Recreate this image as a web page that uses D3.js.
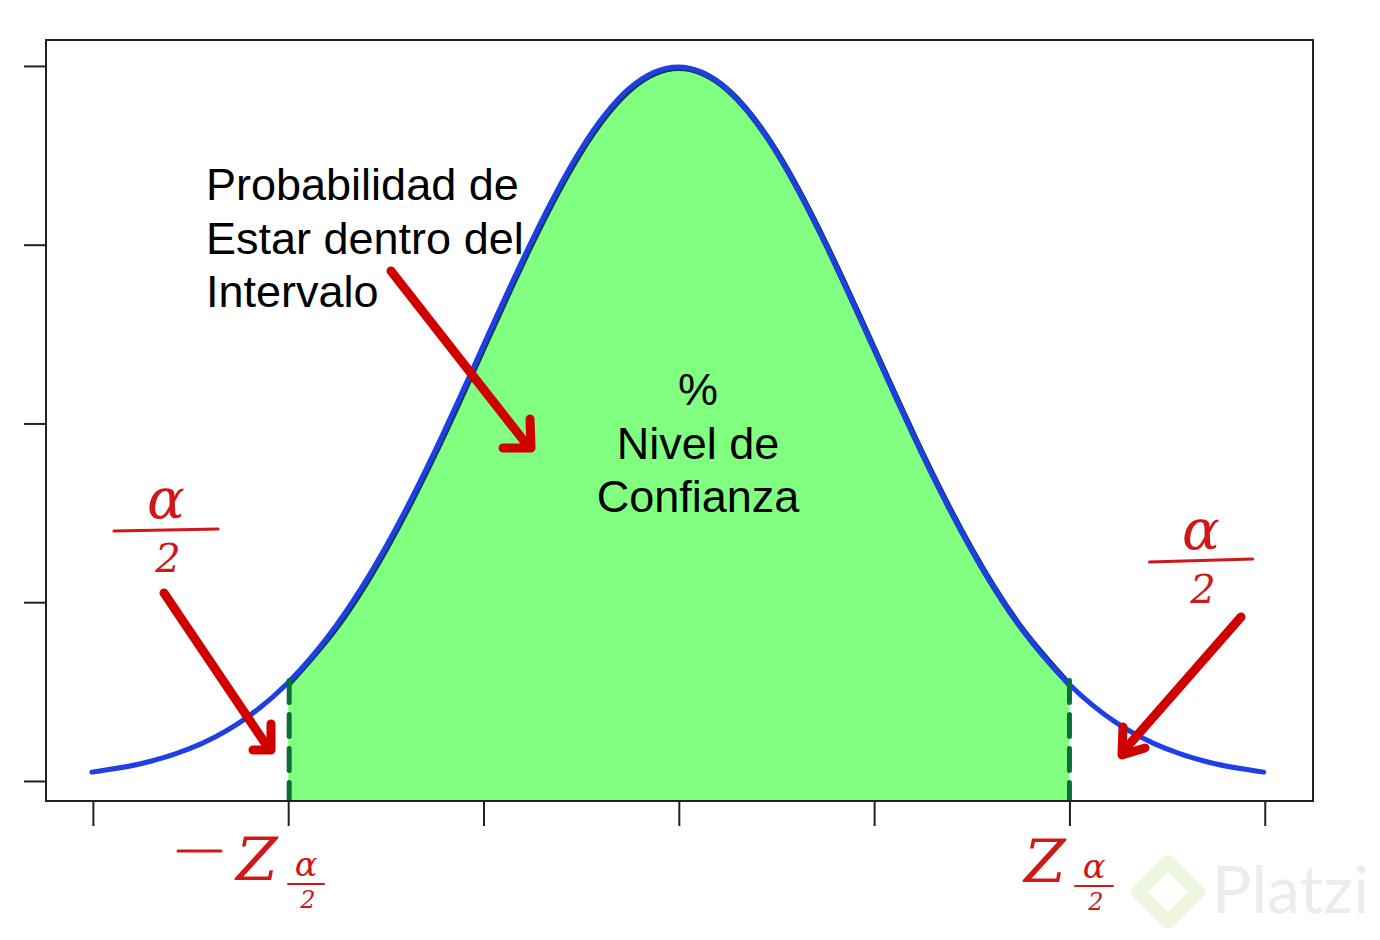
<!DOCTYPE html>
<html><head><meta charset="utf-8">
<script src="https://cdn.jsdelivr.net/npm/d3@7"></script>
<style>body{margin:0;background:#fff}svg{display:block}</style>
</head><body>
<svg id="chart" width="1380" height="940"></svg>
<script>
// Data (standard normal density)
const zValues = [-3,-2.75,-2.5,-2.25,-2,-1.75,-1.5,-1.25,-1,-0.75,-0.5,-0.25,0,0.25,0.5,0.75,1,1.25,1.5,1.75,2,2.25,2.5,2.75,3];
const density = [0.0044,0.0091,0.0175,0.0317,0.0540,0.0863,0.1295,0.1826,0.2420,0.3011,0.3521,0.3867,0.3989,0.3867,0.3521,0.3011,0.2420,0.1826,0.1295,0.0863,0.0540,0.0317,0.0175,0.0091,0.0044];
const xTicks = [-3,-2,-1,0,1,2,3];
const yTicks = [0,0.1,0.2,0.3,0.4];
const intervalBounds = [-2, 2];
const titleLines = ["Probabilidad de","Estar dentro del","Intervalo"];
const centerLines = ["%","Nivel de","Confianza"];

const svg = d3.select("#chart");
const L=46,R=1313,T=40,B=801;
const x = d3.scaleLinear().domain([-3.24,3.247]).range([L,R]);
const y = d3.scaleLinear().domain([-0.0112,0.4145]).range([B,T]);
const pts = zValues.map((z,i)=>({z, d:density[i]}));
const curve = d3.curveNatural;

// Shaded area
const inside = pts.filter(p=>p.z>=intervalBounds[0]&&p.z<=intervalBounds[1]);
svg.append("path").datum(inside)
  .attr("d", d3.area().x(p=>x(p.z)).y0(B).y1(p=>y(p.d)).curve(curve))
  .attr("fill","#80ff80").attr("stroke","none");
svg.append("path").datum(inside)
  .attr("d", d3.line().x(p=>x(p.z)).y(p=>y(p.d)).curve(curve))
  .attr("fill","none").attr("stroke","#0b3d52").attr("stroke-width",6);

// Curve
svg.append("path").datum(pts)
  .attr("d", d3.line().x(p=>x(p.z)).y(p=>y(p.d)).curve(curve))
  .attr("fill","none").attr("stroke","#1f3fe6").attr("stroke-width",5).attr("stroke-linecap","round")
  .attr("transform","translate(-1,-1)");

// Dashed bounds
intervalBounds.forEach((b,i)=>{
  const d = density[zValues.indexOf(b)];
  svg.append("line").attr("x1",x(b)+(i?0:1)).attr("x2",x(b)+(i?0:1)).attr("y1",y(d)-4).attr("y2",B-2)
    .attr("stroke","#06703a").attr("stroke-width",5).attr("stroke-dasharray","22,12").attr("stroke-linecap","round");
});

// Box
svg.append("rect").attr("x",L).attr("y",T).attr("width",R-L).attr("height",B-T)
  .attr("fill","none").attr("stroke","#222").attr("stroke-width",2);

// Axes (ticks only)
const xAxis = svg.append("g").attr("transform",`translate(0,${B})`)
  .call(d3.axisBottom(x).tickValues(xTicks).tickSize(25).tickFormat(""));
xAxis.select(".domain").remove();
xAxis.selectAll("line").attr("stroke","#222").attr("stroke-width",2);
const yAxis = svg.append("g").attr("transform",`translate(${L},0)`)
  .call(d3.axisLeft(y).tickValues(yTicks).tickSize(22).tickFormat(""));
yAxis.select(".domain").remove();
yAxis.selectAll("line").attr("stroke","#222").attr("stroke-width",2);

// Texts
const font = "Liberation Sans, Arial, sans-serif";
svg.append("g").selectAll("text").data(titleLines).join("text")
  .attr("x",206).attr("y",(d,i)=>200+i*53.5).text(d=>d)
  .attr("font-family",font).attr("font-size",45).attr("fill","#000");
svg.append("g").selectAll("text").data(centerLines).join("text")
  .attr("x",698).attr("y",(d,i)=>405+i*53.5).attr("text-anchor","middle").text(d=>d)
  .attr("font-family",font).attr("font-size",45).attr("fill","#000");

// Red arrows
const red="#d10000";
function arrow(pts, head){
  svg.append("path").attr("d",d3.line()(pts)).attr("fill","none").attr("stroke",red)
    .attr("stroke-width",9).attr("stroke-linecap","round");
  svg.append("path").attr("d",d3.line()(head)).attr("fill","none").attr("stroke",red)
    .attr("stroke-width",9).attr("stroke-linecap","round").attr("stroke-linejoin","round");
}
arrow([[391,271],[524,441]],[[503,448],[531,448],[530,419]]);
arrow([[164,593],[267,746]],[[253,750],[271,750],[271,724]]);
arrow([[1241,617],[1127,747]],[[1123,727],[1122,755],[1145,748]]);

// Handwritten alpha/2 labels
const hand = "DejaVu Serif, serif";
const hr = "#d01818";
function frac(cx, cy, w, size, tilt){
  svg.append("text").attr("x",cx).attr("y",cy-size*0.32).attr("text-anchor","middle")
    .attr("font-family",hand).attr("font-style","italic").attr("font-size",size*1.4).attr("fill",hr).text("α");
  svg.append("line").attr("x1",cx-w/2).attr("x2",cx+w/2).attr("y1",cy).attr("y2",cy+(tilt||0))
    .attr("stroke",hr).attr("stroke-width",size*0.08).attr("stroke-linecap","round");
  svg.append("text").attr("x",cx+2).attr("y",cy+size*1.02).attr("text-anchor","middle")
    .attr("font-family",hand).attr("font-style","italic").attr("font-size",size*1.0).attr("fill",hr).text("2");
}
frac(166,531,104,40,-2);
frac(1201,562,103,40,-3);
// -Z alpha/2
svg.append("line").attr("x1",178).attr("x2",221).attr("y1",851).attr("y2",851).attr("stroke",hr).attr("stroke-width",3).attr("stroke-linecap","round");
svg.append("text").attr("x",236).attr("y",880).attr("font-family",hand).attr("font-style","italic").attr("font-size",60).attr("fill",hr).text("Z");
frac(306,884,36,24,0);
svg.append("text").attr("x",1024).attr("y",882).attr("font-family",hand).attr("font-style","italic").attr("font-size",60).attr("fill",hr).text("Z");
frac(1094,886,38,24,0);

// Platzi watermark
svg.append("path").attr("d","M1168,862 L1198,892 L1168,922 L1138,892 Z").attr("fill","none")
  .attr("stroke","#eef6e0").attr("stroke-width",14).attr("stroke-linejoin","round");
svg.append("text").attr("x",1212).attr("y",913).attr("font-family","Lato, Open Sans, sans-serif").attr("font-size",66)
  .attr("fill","#ececec").text("Platzi");
</script>
</body></html>
